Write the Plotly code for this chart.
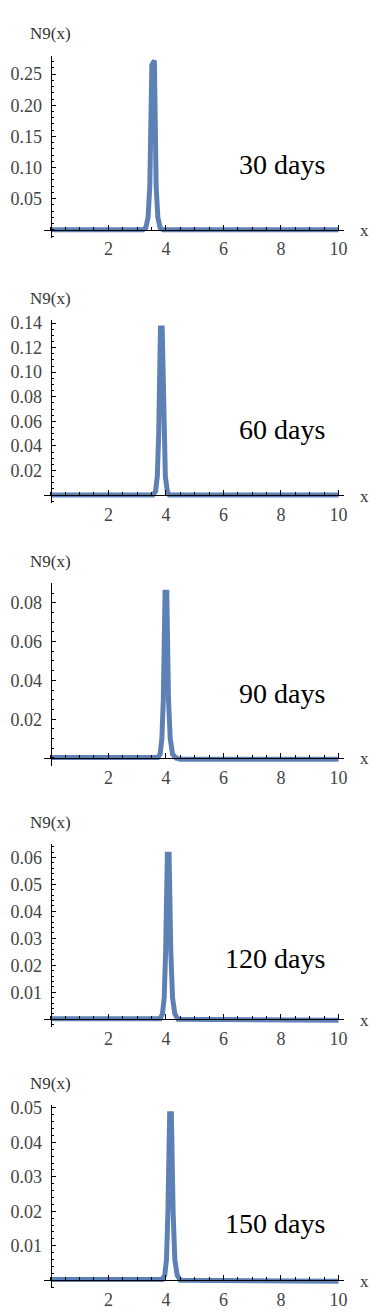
import plotly.graph_objects as go

# values, one peak per time point
days = [30, 60, 90, 120, 150]

x_30 = [0, 3.2, 3.3, 3.38, 3.44, 3.48, 3.51, 3.6, 3.62, 3.66, 3.72, 3.8, 3.9, 10]
n9_30 = [0, 0, 0.003, 0.02, 0.07, 0.15, 0.265, 0.272, 0.15, 0.07, 0.02, 0.003, 0, 0]

x_60 = [0, 3.55, 3.64, 3.7, 3.75, 3.79, 3.81, 3.87, 3.89, 3.93, 3.98, 4.05, 4.12, 10]
n9_60 = [0, 0, 0.003, 0.015, 0.05, 0.1, 0.136, 0.136, 0.1, 0.05, 0.015, 0.003, 0, 0]

x_90 = [0, 3.72, 3.8, 3.86, 3.91, 3.95, 3.97, 4.03, 4.05, 4.09, 4.15, 4.23, 4.35, 4.5, 10]
n9_90 = [0.0003, 0.0003, 0.002, 0.01, 0.03, 0.065, 0.0855, 0.0855, 0.065, 0.03, 0.01, 0.002, 0,
         -0.0007, -0.0007]

x_120 = [0, 3.8, 3.88, 3.94, 3.99, 4.03, 4.05, 4.11, 4.13, 4.17, 4.23, 4.31, 4.42, 4.8, 4.85, 10]
n9_120 = [0.0002, 0.0002, 0.002, 0.008, 0.025, 0.047, 0.0612, 0.0612, 0.047, 0.025, 0.008, 0.002,
          0, 0, -0.0004, -0.0004]

x_150 = [0, 3.88, 3.96, 4.02, 4.07, 4.11, 4.13, 4.19, 4.21, 4.25, 4.31, 4.39, 4.5, 5.05, 5.1, 10]
n9_150 = [0.0002, 0.0002, 0.0015, 0.006, 0.02, 0.037, 0.0483, 0.0483, 0.037, 0.02, 0.006, 0.0015,
          0, 0, -0.0003, -0.0003]

x_ticks = [2, 4, 6, 8, 10]
y_ticks = [
    [0.05, 0.10, 0.15, 0.20, 0.25],
    [0.02, 0.04, 0.06, 0.08, 0.10, 0.12, 0.14],
    [0.02, 0.04, 0.06, 0.08],
    [0.01, 0.02, 0.03, 0.04, 0.05, 0.06],
    [0.01, 0.02, 0.03, 0.04, 0.05],
]
y_minor = [0.01, 0.005, 0.005, 0.002, 0.002]
y_top = [0.2796, 0.1422, 0.0901, 0.0649, 0.0508]
label_y = [0.105, 0.053, 0.033, 0.0225, 0.0165]

curves = [(x_30, n9_30), (x_60, n9_60), (x_90, n9_90), (x_120, n9_120), (x_150, n9_150)]

# layout in pixels: (top of y axis, y=0 line, bottom of y axis)
W, H = 382, 1316
panels_px = [(49, 224, 232), (315, 490.7, 498.7), (579.3, 755, 763),
             (841.7, 1017.7, 1025.7), (1104, 1280, 1288)]
x_left_px, x_zero_px, x_right_px = 44, 51, 347
x_range = [-0.25, 10.2]

blue = 'rgb(94,129,181)'
serif = 'Liberation Serif, Times New Roman, serif'

fig = go.Figure()
layout = dict(
    width=W, height=H,
    margin=dict(l=0, r=0, t=0, b=0),
    plot_bgcolor='white', paper_bgcolor='white',
    showlegend=False,
    font=dict(family=serif, size=18, color='#444'),
)
annotations = []

for i, (d, (xs, ys)) in enumerate(zip(days, curves)):
    n = i + 1
    ax = '' if n == 1 else str(n)
    top_px, zero_px, bot_px = panels_px[i]
    top_val = y_top[i]
    upp = top_val / (zero_px - top_px)
    y_range = [-(bot_px - zero_px) * upp, top_val]
    yt = y_ticks[i]

    fig.add_trace(go.Scatter(
        x=xs, y=ys, mode='lines',
        line=dict(color=blue, width=5),
        xaxis='x' + ax, yaxis='y' + ax,
        hoverinfo='skip',
    ))

    layout['xaxis' + ax] = dict(
        domain=[x_left_px / W, x_right_px / W],
        range=x_range,
        anchor='free', position=1 - zero_px / H,
        showgrid=False, zeroline=False,
        showline=True, linecolor='black', linewidth=1,
        tickmode='array', tickvals=x_ticks,
        ticks='inside', ticklen=5, tickcolor='black',
        minor=dict(tickmode='linear', tick0=0, dtick=0.5, ticks='inside', ticklen=3,
                   tickcolor='black', showgrid=False),
        tickfont=dict(family=serif, size=18, color='#444'),
        ticklabelstandoff=3,
        fixedrange=True,
    )
    layout['yaxis' + ax] = dict(
        domain=[1 - bot_px / H, 1 - top_px / H],
        range=y_range,
        anchor='free', position=x_zero_px / W,
        showgrid=False, zeroline=False,
        showline=True, linecolor='black', linewidth=1,
        tickmode='array', tickvals=yt,
        ticktext=['%.2f' % v for v in yt],
        ticks='inside', ticklen=4, tickcolor='black',
        minor=dict(tickmode='linear', tick0=0, dtick=y_minor[i], ticks='inside', ticklen=2,
                   tickcolor='black', showgrid=False),
        tickfont=dict(family=serif, size=18, color='#444'),
        ticklabelstandoff=5,
        fixedrange=True,
    )

    annotations.append(dict(
        text='N9(x)', x=0, y=top_val, xref='x' + ax, yref='y' + ax,
        showarrow=False, yshift=22, xanchor='center', yanchor='middle',
        font=dict(family=serif, size=17, color='#333'),
    ))
    annotations.append(dict(
        text='x', x=x_range[1], y=0, xref='x' + ax, yref='y' + ax,
        showarrow=False, xshift=20, yshift=-1, xanchor='center', yanchor='middle',
        font=dict(family=serif, size=17, color='#333'),
    ))
    annotations.append(dict(
        text=f'{d} days', x=9.6, y=label_y[i], xref='x' + ax, yref='y' + ax,
        showarrow=False, xanchor='right', yanchor='middle',
        font=dict(family=serif, size=28, color='black'),
    ))

layout['annotations'] = annotations
fig.update_layout(**layout)

fig.write_html("out.html", config={'displayModeBar': False},
               post_script="document.body.style.margin='0px';")
